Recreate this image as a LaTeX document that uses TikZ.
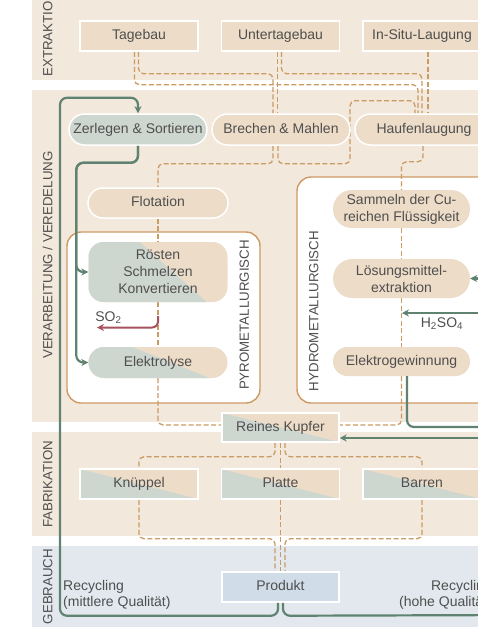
\documentclass[tikz,border=0pt]{standalone}
\usepackage{fontspec}
\setmainfont{Liberation Sans}
\usetikzlibrary{calc,arrows.meta}
\definecolor{bandc}{HTML}{F3E8DC}
\definecolor{boxb}{HTML}{EDDCC7}
\definecolor{boxg}{HTML}{CED6D0}
\definecolor{useband}{HTML}{E2E8EE}
\definecolor{prodc}{HTML}{D0DCE7}
\definecolor{glinec}{HTML}{5F8370}
\definecolor{dlinec}{HTML}{CA9B63}
\definecolor{framec}{HTML}{CE9A64}
\definecolor{redc}{HTML}{A65260}
\definecolor{txtc}{HTML}{4F4F4F}
\pgfdeclarelayer{bg}
\pgfdeclarelayer{mid}
\pgfsetlayers{bg,mid,main}
\tikzset{
  boxtext/.style={text=txtc, font=\fontsize{14}{17}\selectfont, align=center, inner sep=0pt},
  oneline/.style={text height=10pt, text depth=3pt},
  rbox/.style={boxtext, oneline, draw=white, line width=1.5pt, fill=boxb, minimum width=118pt, minimum height=30pt},
  pill/.style={rbox, rounded corners=15.5pt, minimum width=138pt, minimum height=31pt},
  ibox/.style={boxtext, fill=boxb, minimum width=139pt},
  diag/.style={path picture={\fill[boxg, sharp corners] (path picture bounding box.north west) -- (path picture bounding box.south east) -- (path picture bounding box.south west) -- cycle;}},
  diagp/.style 2 args={path picture={\fill[boxg, sharp corners] ($(path picture bounding box.north west)+(#1pt,0pt)$) -- ($(path picture bounding box.south east)+(-#2pt,0pt)$) -- ($(path picture bounding box.south west)+(-2pt,0pt)$) -- ($(path picture bounding box.north west)+(-2pt,0pt)$) -- cycle;}},
  blabel/.style={text=txtc, font=\fontsize{13.3}{15}\selectfont, rotate=90, inner sep=0pt, text height=9.6pt, text depth=0pt},
  cont/.style={draw=framec, line width=1.4pt, fill=white, rounded corners=14pt, inner sep=0pt},
  dl/.style={draw=dlinec, line width=1.3pt, dash pattern=on 5pt off 2.5pt, rounded corners=5pt},
  gl/.style={draw=glinec, line width=2.2pt, rounded corners=7pt},
  gtip/.style={-{Stealth[length=7pt,width=7pt]}},
  rl/.style={draw=redc, line width=2pt, rounded corners=6pt, -{Stealth[length=7pt,width=7pt]}},
  notetext/.style={text=txtc, font=\fontsize{14}{16.5}\selectfont, inner sep=0pt},
}
\begin{document}
\begin{tikzpicture}[x=1pt,y=-1pt]
\useasboundingbox (0,0) rectangle (478,641);
\begin{pgfonlayer}{bg}
  \fill[bandc] (32,-5) rectangle (520,80);
  \fill[bandc] (32,90) rectangle (520,422);
  \fill[bandc] (32,432) rectangle (520,536);
  \fill[useband] (32,546) rectangle (520,627);
  \node[cont, minimum width=193pt, minimum height=171pt] (pyro) at (163.5,317.5) {};
  \node[cont, minimum width=223pt, minimum height=226pt] (hydro) at (408.5,290) {};
\end{pgfonlayer}

% band labels
\node[blabel] (lextr) at (47.5,34) {EXTRAKTION};
\node[blabel] (lverar) at (47.5,255) {VERARBEITUNG / VEREDELUNG};
\node[blabel] (lfab) at (47.5,484.5) {FABRIKATION};
\node[blabel] (lgeb) at (47.5,586.5) {GEBRAUCH};
\node[blabel] (lpyro) at (244,315) {PYROMETALLURGISCH};
\node[blabel] (lhydro) at (313.5,311) {HYDROMETALLURGISCH};

% nodes
\node[rbox] (tagebau) at (139,36) {Tagebau};
\node[rbox] (unter) at (280.5,36) {Untertagebau};
\node[rbox] (insitu) at (422,36) {In-Situ-Laugung};
\node[pill, fill=boxg] (zerlegen) at (138,129.5) {Zerlegen \& Sortieren};
\node[pill] (brechen) at (281,129.5) {Brechen \& Mahlen};
\node[pill] (haufen) at (424,129.5) {Haufenlaugung};
\node[pill, minimum width=140pt, minimum height=30pt, rounded corners=15pt] (flot) at (158,203) {Flotation};
\node[ibox, minimum height=60pt, rounded corners=15pt, diagp={51}{21}] (roesten) at (158,272) {Rösten\\Schmelzen\\Konvertieren};
\node[ibox, oneline, minimum height=31pt, rounded corners=15.5pt, diagp={44}{18}] (elyse) at (158,362.5) {Elektrolyse};
\node[ibox, minimum width=137pt, minimum height=38pt, rounded corners=19pt] (sammeln) at (401.5,209) {Sammeln der Cu-\\reichen Flüssigkeit};
\node[ibox, minimum width=137pt, minimum height=39pt, rounded corners=19.5pt] (loes) at (401.5,278.5) {Lösungsmittel-\\extraktion};
\node[ibox, oneline, minimum width=137pt, minimum height=29pt, rounded corners=14.5pt] (egew) at (401.5,361.5) {Elektrogewinnung};
\node[rbox, diag, minimum width=117pt, minimum height=29pt] (kupfer) at (280.5,427.5) {Reines Kupfer};
\node[rbox, diag] (knueppel) at (139,484) {Knüppel};
\node[rbox, diag] (platte) at (280.5,484) {Platte};
\node[rbox, diag] (barren) at (422,484) {Barren};
\node[rbox, fill=prodc, minimum width=117pt] (produkt) at (280.5,587) {Produkt};

% labels
\node[notetext] (so2) at (108.5,318) {SO\textsubscript{2}};
\node[notetext] (h2so4) at (442,324) {H\textsubscript{2}SO\textsubscript{4}};
\node[notetext, anchor=west, align=left] (recm) at (63,595) {Recycling\\(mittlere Qualität)};
\node[notetext, anchor=east, align=right] (rech) at (492,595) {Recycling\\(hohe Qualität)};

% dashed material flow
\begin{pgfonlayer}{mid}
  \draw[dl] ($(tagebau.south)+(-0.5,0)$) -- ++(0,22) -| ($(brechen.north)+(-8,0)$);
  \draw[dl] ($(tagebau.south)+(-4.5,0)$) -- ++(0,33) -| ($(haufen.north)+(-6,0)$);
  \draw[dl] ($(unter.south)+(-3,0)$) -- ($(brechen.north)+(-3.5,0)$);
  \draw[dl] ($(unter.south)+(1,0)$) -- ++(0,22) -| ($(haufen.north)+(-2,0)$);
  \draw[dl] ($(insitu.south)+(6,0)$) -- ($(haufen.north)+(4,0)$);
  % pyro chain
  \draw[dl] ($(brechen.south)+(-8,0)$) -- ++(0,18) -| (flot.north);
  \draw[dl] (flot.south) -- (roesten.north);
  \draw[dl] (roesten.south) -- (elyse.north);
  \draw[dl] (elyse.south) |- ($(kupfer.west)+(0,-2.5)$);
  % to heap leaching
  \draw[dl] ($(brechen.south)+(-3,0)$) -- ++(0,18) -- ++(72,0) -- ++(0,-63) -| ($(haufen.north)+(-9,0)$);
  % hydro chain
  \draw[dl] ($(haufen.south)+(-1,0)$) -- ++(0,16) -| (sammeln.north);
  \draw[dl] (sammeln.south) -- (loes.north);
  \draw[dl] (loes.south) -- (egew.north);
  \draw[dl] (egew.south) |- ($(kupfer.east)+(0,-2.5)$);
  % fabrication
  \draw[dl] ($(kupfer.south)+(-5.5,0)$) -- ++(0,14) -| (knueppel.north);
  \draw[dl] (knueppel.south) -- ++(0,39) -| ($(produkt.north)+(-5.5,0)$);
  \draw[dl] (kupfer.south) -- (platte.north);
  \draw[dl] (platte.south) -- (produkt.north);
  \draw[dl] ($(kupfer.south)+(4.5,0)$) -- ++(0,14) -| (barren.north);
  \draw[dl] (barren.south) -- ++(0,39) -| ($(produkt.north)+(4.5,0)$);
\end{pgfonlayer}

% green flows
\coordinate (rsideA) at (520,615);
\coordinate (rsideB) at (520,427);
\coordinate (rsideC) at (520,438);
\coordinate (rsideD) at (520,278.5);
\coordinate (rsideE) at (520,313);
\coordinate (h2in) at (402,313);
\coordinate (so2src) at (158,316);
\coordinate (so2end) at (97,327.5);
\draw[gl, gtip] ($(produkt.south)+(-2.5,0)$) -- ++(0,13) -- ++(-218,0) -- ++(0,-518) -| (zerlegen.north);
\draw[gl] ($(produkt.south)+(2.5,0)$) -- ++(0,13) -- (rsideA);
\draw[gl, gtip] (zerlegen.south) -- ++(0,17) -| ($(roesten.west)+(-12,0)$) -- (roesten.west);
\draw[gl, gtip] (zerlegen.south) -- ++(0,17) -| ($(elyse.west)+(-12,0)$) -- (elyse.west);
\draw[gl] ($(egew.south)+(5.5,0)$) |- (rsideB);
\draw[gl, gtip] (rsideC) -- ($(kupfer.east)+(0,10.5)$);
\draw[gl, gtip] (rsideD) -- (loes.east);
\draw[gl, gtip] (rsideE) -- (h2in);
\draw[rl] (so2src) |- (so2end);
\end{tikzpicture}
\end{document}
